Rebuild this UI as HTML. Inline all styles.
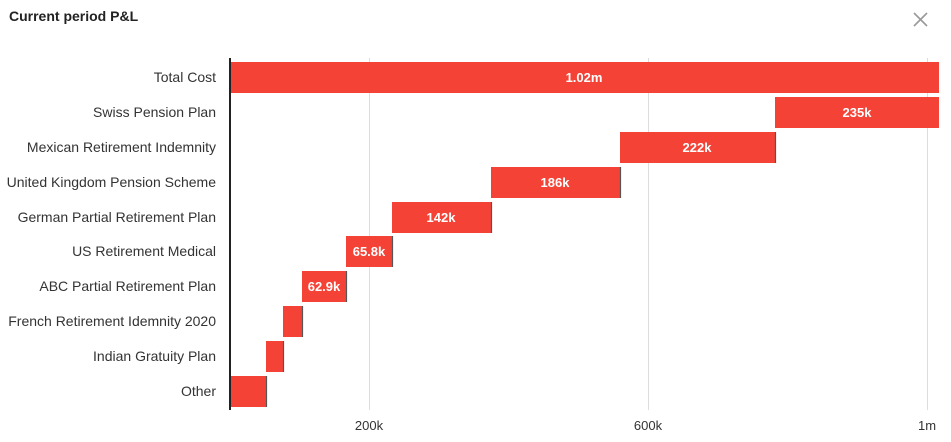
<!DOCTYPE html>
<html><head><style>
body{margin:0;background:#fff;width:951px;height:437px;overflow:hidden;font-family:"Liberation Sans",sans-serif;}
</style></head><body>
<svg width="951" height="437" xmlns="http://www.w3.org/2000/svg" font-family="Liberation Sans, sans-serif">
<text x="9" y="21" font-size="14" font-weight="bold" fill="#222">Current period P&amp;L</text>
<path d="M914 13 L927 26 M927 13 L914 26" stroke="#999" stroke-width="1.6"/>
<g stroke="#ddd" stroke-width="1">
<line x1="369.5" y1="58" x2="369.5" y2="410"/>
<line x1="648.5" y1="58" x2="648.5" y2="410"/>
<line x1="927.5" y1="58" x2="927.5" y2="410"/>
</g>
<g fill="#f44336">
<rect x="230" y="62" width="709" height="31"/>
<rect x="775" y="97" width="164" height="31"/>
<rect x="620" y="132" width="155" height="31"/>
<rect x="491" y="167" width="129" height="31"/>
<rect x="392" y="202" width="99" height="31"/>
<rect x="346" y="236" width="46" height="31"/>
<rect x="302" y="271" width="44" height="31"/>
<rect x="283" y="306" width="19" height="31"/>
<rect x="266" y="341" width="17" height="31"/>
<rect x="230" y="376" width="36" height="31"/>
</g>
<g stroke="#555" stroke-width="1.2">
<line x1="775.5" y1="132" x2="775.5" y2="163"/>
<line x1="620.5" y1="167" x2="620.5" y2="198"/>
<line x1="491.5" y1="202" x2="491.5" y2="233"/>
<line x1="392.5" y1="236" x2="392.5" y2="267"/>
<line x1="346.5" y1="271" x2="346.5" y2="302"/>
<line x1="302.5" y1="306" x2="302.5" y2="337"/>
<line x1="283.5" y1="341" x2="283.5" y2="372"/>
<line x1="266.5" y1="376" x2="266.5" y2="407"/>
</g>
<line x1="230" y1="58" x2="230" y2="410" stroke="#222" stroke-width="2"/>
<g font-size="13" font-weight="bold" fill="#fff" text-anchor="middle">
<text x="584" y="82">1.02m</text>
<text x="857" y="117">235k</text>
<text x="697" y="152">222k</text>
<text x="555" y="187">186k</text>
<text x="441" y="222">142k</text>
<text x="369" y="256">65.8k</text>
<text x="324" y="291">62.9k</text>
</g>
<g font-size="14" fill="#333" text-anchor="end">
<text x="216" y="82">Total Cost</text>
<text x="216" y="117">Swiss Pension Plan</text>
<text x="216" y="152">Mexican Retirement Indemnity</text>
<text x="216" y="187">United Kingdom Pension Scheme</text>
<text x="216" y="222">German Partial Retirement Plan</text>
<text x="216" y="256">US Retirement Medical</text>
<text x="216" y="291">ABC Partial Retirement Plan</text>
<text x="216" y="326">French Retirement Idemnity 2020</text>
<text x="216" y="361">Indian Gratuity Plan</text>
<text x="216" y="396">Other</text>
</g>
<g font-size="13" fill="#333" text-anchor="middle">
<text x="369" y="430">200k</text>
<text x="648" y="430">600k</text>
<text x="927" y="430">1m</text>
</g>
</svg>
</body></html>
